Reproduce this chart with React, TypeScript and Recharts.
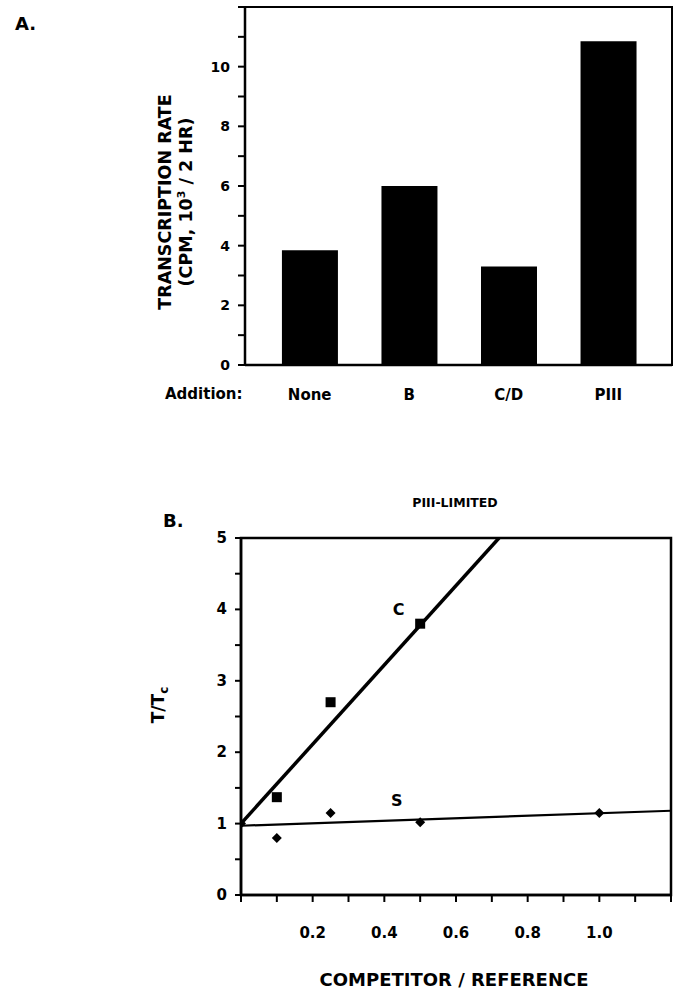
import React from 'react';
import { ComposedChart, Bar, XAxis, YAxis, Scatter, Line, ReferenceArea } from 'recharts';

// ---------- Panel A data ----------
const additions = ['None', 'B', 'C/D', 'PIII'];
const transcriptionRates = [3.85, 6.0, 3.3, 10.85];
const rateTicks = [0, 1, 2, 3, 4, 5, 6, 7, 8, 9, 10, 11, 12];
const additionDomain = [-0.65, 3.64];
const rateDomain = [0, 12];

// ---------- Panel B data ----------
const ratioC_x = [0.1, 0.25, 0.5];
const ratioC_y = [1.37, 2.7, 3.8];
const ratioS_x = [0, 0.1, 0.25, 0.5, 1.0];
const ratioS_y = [1.0, 0.8, 1.15, 1.02, 1.15];
const fitC_x = [0, 0.72];
const fitC_y = [1.0, 5.0];
const fitS_x = [0, 1.2];
const fitS_y = [0.97, 1.18];
const curveLabels = ['C', 'S'];
const curveLabel_x = [0.44, 0.435];
const curveLabel_y = [4.0, 1.33];
const competitorTicks = [0, 0.1, 0.2, 0.3, 0.4, 0.5, 0.6, 0.7, 0.8, 0.9, 1.0, 1.1, 1.2];
const ratioTicks = [0, 0.5, 1, 1.5, 2, 2.5, 3, 3.5, 4, 4.5, 5];
const competitorDomain = [0, 1.2];
const ratioDomain = [0, 5];

const dataA = additions.map((a, i) => ({ idx: i, addition: a, rate: transcriptionRates[i] }));
const zip = (xs: number[], ys: number[]) => xs.map((x, i) => ({ x, y: ys[i] }));
const pointsC = zip(ratioC_x, ratioC_y);
const pointsS = zip(ratioS_x, ratioS_y);
const lineC = zip(fitC_x, fitC_y);
const lineS = zip(fitS_x, fitS_y);
const labelPoints = curveLabels.map((l, i) => ({ x: curveLabel_x[i], y: curveLabel_y[i], label: l }));

const FONT = '"DejaVu Sans", "Liberation Sans", Arial, sans-serif';
const txt = { fontFamily: FONT, fontWeight: 700, fill: '#000' } as const;

const RateTick = (p: any) => {
  const v = p.payload.value;
  if (v % 2 !== 0 || v >= 12) return null;
  return (
    <text x={p.x - 6} y={p.y} dy={5} textAnchor="end" fontSize={14} {...txt}>
      {v}
    </text>
  );
};

const AdditionTick = (p: any) => (
  <text x={p.x} y={p.y + 27} textAnchor="middle" fontSize={15} {...txt}>
    {additions[p.payload.value]}
  </text>
);

const CompTick = (p: any) => {
  const v = p.payload.value;
  const k = Math.round(v * 10);
  if (k === 0 || k % 2 !== 0 || k > 10) return null;
  return (
    <text x={p.x} y={p.y + 34} textAnchor="middle" fontSize={15} {...txt}>
      {v.toFixed(1)}
    </text>
  );
};

const RatioTick = (p: any) => {
  const v = p.payload.value;
  if (!Number.isInteger(v)) return null;
  return (
    <text x={p.x - 6} y={p.y} dy={5} textAnchor="end" fontSize={15} {...txt}>
      {v}
    </text>
  );
};

const SquareShape = (p: any) => <rect x={p.cx - 5} y={p.cy - 5} width={10} height={10} fill="#000" />;
const DiamondShape = (p: any) => (
  <path d={`M${p.cx},${p.cy - 5} L${p.cx + 5},${p.cy} L${p.cx},${p.cy + 5} L${p.cx - 5},${p.cy} Z`} fill="#000" />
);
const TextShape = (p: any) => (
  <text x={p.cx} y={p.cy} dy={6} textAnchor="middle" fontSize={16} {...txt}>
    {p.payload.label}
  </text>
);

const abs = (left: number, top: number, extra: React.CSSProperties = {}): React.CSSProperties => ({
  position: 'absolute',
  left,
  top,
  fontFamily: FONT,
  fontWeight: 700,
  color: '#000',
  whiteSpace: 'nowrap',
  lineHeight: 1,
  ...extra,
});

export default function App() {
  const axisStroke = { stroke: '#000', strokeWidth: 2.5 };
  return (
    <div style={{ position: 'absolute', left: 0, top: 0, width: 682, height: 989, background: '#fff', overflow: 'hidden' }}>
      {/* Panel A */}
      <div style={{ position: 'absolute', left: 0, top: 0 }}>
        <ComposedChart width={682} height={410} data={dataA} margin={{ top: 7, right: 10, bottom: 0, left: 200 }}>
          <ReferenceArea
            x1={additionDomain[0]}
            x2={additionDomain[1]}
            y1={rateDomain[0]}
            y2={rateDomain[1]}
            fill="none"
            stroke="#000"
            strokeWidth={2}
          />
          <XAxis
            type="number"
            dataKey="idx"
            domain={additionDomain}
            ticks={[0, 1, 2, 3]}
            interval={0}
            allowDataOverflow
            axisLine={axisStroke}
            tickLine={false}
            height={45}
            tick={<AdditionTick />}
          />
          <YAxis
            domain={rateDomain}
            ticks={rateTicks}
            interval={0}
            tickSize={7}
            tickLine={{ stroke: '#000', strokeWidth: 2 }}
            axisLine={axisStroke}
            width={45}
            tick={<RateTick />}
          />
          <Bar dataKey="rate" fill="#000" barSize={56} isAnimationActive={false} />
        </ComposedChart>
      </div>

      {/* Panel B */}
      <div style={{ position: 'absolute', left: 0, top: 470 }}>
        <ComposedChart width={682} height={519} margin={{ top: 68, right: 11, bottom: 0, left: 196 }}>
          <ReferenceArea
            x1={competitorDomain[0]}
            x2={competitorDomain[1]}
            y1={ratioDomain[0]}
            y2={ratioDomain[1]}
            fill="none"
            stroke="#000"
            strokeWidth={2.5}
          />
          <XAxis
            type="number"
            dataKey="x"
            domain={competitorDomain}
            ticks={competitorTicks}
            interval={0}
            tickSize={7}
            tickLine={{ stroke: '#000', strokeWidth: 2 }}
            axisLine={axisStroke}
            height={94}
            tick={<CompTick />}
            allowDataOverflow
          />
          <YAxis
            type="number"
            domain={ratioDomain}
            ticks={ratioTicks}
            interval={0}
            tickSize={6}
            tickLine={{ stroke: '#000', strokeWidth: 2 }}
            axisLine={axisStroke}
            width={45}
            tick={<RatioTick />}
            allowDataOverflow
          />
          <Line data={lineC} dataKey="y" type="linear" stroke="#000" strokeWidth={3.5} dot={false} activeDot={false} isAnimationActive={false} />
          <Line data={lineS} dataKey="y" type="linear" stroke="#000" strokeWidth={2.2} dot={false} activeDot={false} isAnimationActive={false} />
          <Scatter data={pointsC} dataKey="y" shape={<SquareShape />} isAnimationActive={false} />
          <Scatter data={pointsS} dataKey="y" shape={<DiamondShape />} isAnimationActive={false} />
          <Scatter data={labelPoints} dataKey="y" shape={<TextShape />} isAnimationActive={false} />
        </ComposedChart>
      </div>

      {/* Text overlays */}
      <div style={abs(15, 15, { fontSize: 18 })}>A.</div>
      <div style={abs(163, 512, { fontSize: 18 })}>B.</div>
      <div style={abs(165, 387, { fontSize: 15 })}>Addition:</div>
      <div
        style={abs(176, 202, {
          fontSize: 17.5,
          lineHeight: '21px',
          textAlign: 'center',
          transform: 'translate(-50%, -50%) rotate(-90deg)',
        })}
      >
        <div>TRANSCRIPTION RATE</div>
        <div>
          (CPM, 10<sup style={{ fontSize: 11, verticalAlign: 'super', lineHeight: 0 }}>3</sup> / 2 HR)
        </div>
      </div>
      <div style={abs(455, 503, { fontSize: 12.5, transform: 'translate(-50%, -50%)' })}>PIII-LIMITED</div>
      <div style={abs(158, 705, { fontSize: 17, transform: 'translate(-50%, -50%) rotate(-90deg)' })}>
        T/T<sub style={{ fontSize: 12, lineHeight: 0 }}>c</sub>
      </div>
      <div style={abs(454, 980, { fontSize: 18, transform: 'translate(-50%, -50%)' })}>COMPETITOR / REFERENCE</div>
    </div>
  );
}
